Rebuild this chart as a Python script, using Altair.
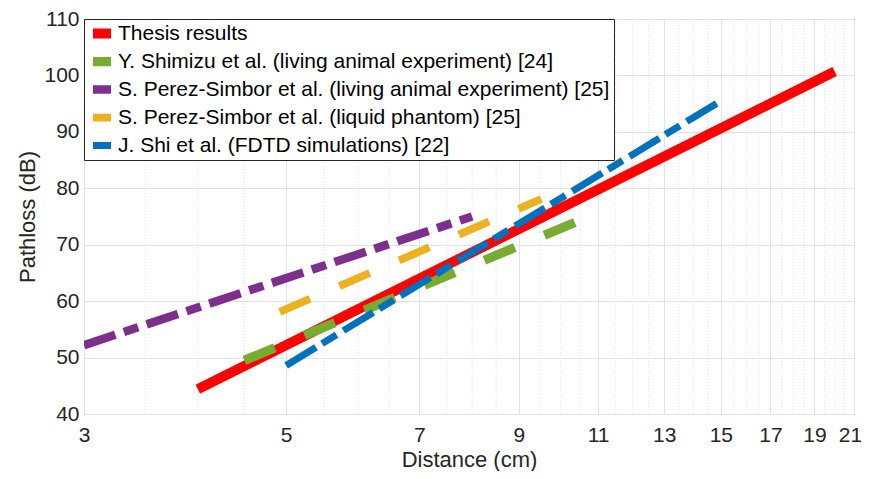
import altair as alt
import pandas as pd

series = [
    "Thesis results",
    "Y. Shimizu et al. (living animal experiment) [24]",
    "S. Perez-Simbor et al. (living animal experiment) [25]",
    "S. Perez-Simbor et al. (liquid phantom) [25]",
    "J. Shi et al. (FDTD simulations) [22]",
]
x_start = [4.0, 4.5, 3.0, 4.92, 5.0]
x_end = [20.0, 10.5, 8.0, 9.53, 15.0]
y_start = [44.4, 49.5, 52.2, 58.1, 48.6]
y_end = [100.7, 74.3, 75.0, 78.1, 95.5]

colors = ["#FF0000", "#77AC30", "#7E2F8E", "#EDB120", "#0072BD"]
dashes = [[1, 0], [33, 32], [33, 9, 15, 9], [33, 32], [35, 7, 17, 8]]
widths = [10, 7, 7, 7, 7]

x_ticks = [3, 5, 7, 9, 11, 13, 15, 17, 19, 21]
y_ticks = [40, 50, 60, 70, 80, 90, 100, 110]
minor_x = [v / 2 for v in range(7, 42) if (v / 2) not in x_ticks]

rows = []
for i, s in enumerate(series):
    rows.append({"series": s, "style": s, "d": x_start[i], "pl": y_start[i], "k": 0})
    rows.append({"series": s, "style": s, "d": x_end[i], "pl": y_end[i], "k": 1})
df = pd.DataFrame(rows)
minor_df = pd.DataFrame({"d": minor_x})

FONT = "Liberation Sans"

xscale = alt.Scale(type="log", domain=[3, 21], nice=False)
yscale = alt.Scale(domain=[40, 110], nice=False, zero=False)

minor = alt.Chart(minor_df).mark_rule(
    color="#e3e3e3", strokeWidth=1, strokeDash=[1, 2]
).encode(x=alt.X("d:Q", scale=xscale))

lines = alt.Chart(df).mark_line(clip=True, strokeCap="butt").encode(
    x=alt.X(
        "d:Q",
        scale=xscale,
        axis=alt.Axis(
            values=x_ticks,
            format="d",
            title="Distance (cm)",
            grid=True,
            ticks=False,
            labelFlush=False,
            labelOffset={"condition": {"test": "datum.value >= 21", "value": -4}, "value": 0},
            labelPadding=10,
            titlePadding=4,
        ),
    ),
    y=alt.Y(
        "pl:Q",
        scale=yscale,
        axis=alt.Axis(
            values=y_ticks,
            title="Pathloss (dB)",
            grid=True,
            ticks=False,
            labelFlush=False,
            labelPadding=5,
            titlePadding=4,
        ),
    ),
    color=alt.Color(
        "series:N",
        scale=alt.Scale(domain=series, range=colors),
        sort=series,
        legend=alt.Legend(
            title=None,
            orient="top-left",
            offset=0,
            padding=4,
            fillColor="white",
            strokeColor="#262626",
            labelFont=FONT,
            labelFontSize=21,
            labelColor="#000000",
            labelLimit=0,
            labelOffset=2,
            rowPadding=6,
            clipHeight=21,
            symbolType="stroke",
            symbolSize=324,
            symbolStrokeWidth=8,
            symbolDash=[1, 0],
        ),
    ),
    strokeDash=alt.StrokeDash(
        "style:N", scale=alt.Scale(domain=series, range=dashes), legend=None
    ),
    strokeWidth=alt.StrokeWidth(
        "style:N", scale=alt.Scale(domain=series, range=widths), legend=None
    ),
    detail="series:N",
    order="k:Q",
)

chart = (
    alt.layer(minor, lines)
    .properties(
        width=770,
        height=395,
        autosize=alt.AutoSizeParams(type="none"),
        padding={"left": 76, "top": 11, "right": 7, "bottom": 57},
        background="white",
    )
    .configure_view(stroke="#262626", strokeWidth=1)
    .configure_axis(
        domain=False,
        gridColor="#e3e3e3",
        gridWidth=1,
        labelFont=FONT,
        labelFontSize=21,
        labelColor="#262626",
        titleFont=FONT,
        titleFontSize=22,
        titleFontWeight="normal",
        titleColor="#262626",
    )
)

chart.save("out.html", embed_options={"renderer": "svg", "actions": False})
